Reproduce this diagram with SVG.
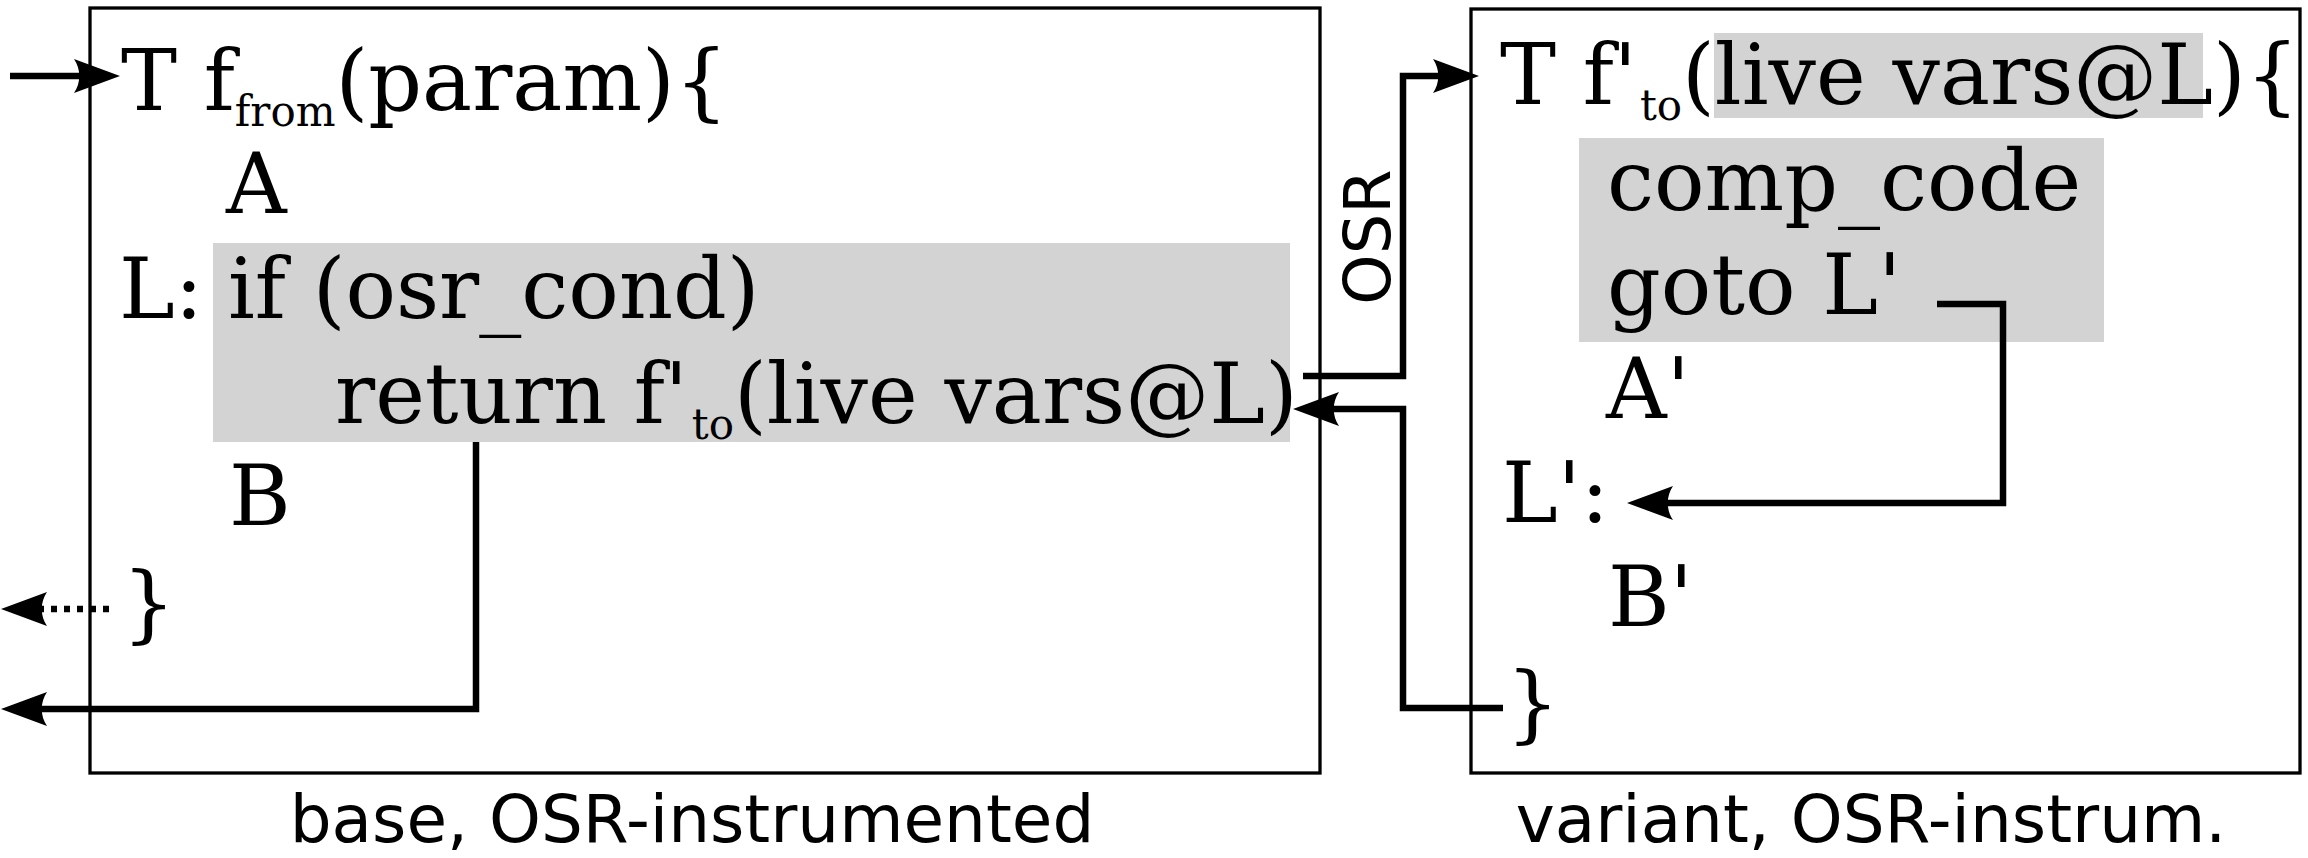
<svg xmlns="http://www.w3.org/2000/svg" width="2308" height="858" viewBox="0 0 2308 858">
<style>
.box{fill:none;stroke:#000;stroke-width:3.3}
.hl{fill:#d3d3d3;stroke:none}
.code{font-family:"DejaVu Serif","Liberation Serif",serif;font-size:84px;fill:#000}
.sub{font-size:42px}
.cap{font-family:"DejaVu Sans","Liberation Sans",sans-serif;font-size:66px;fill:#000;text-anchor:middle}
.osr{font-family:"DejaVu Sans","Liberation Sans",sans-serif;font-size:64px;fill:#000;text-anchor:middle}
.conn path{fill:none;stroke:#000;stroke-width:6.5;stroke-linejoin:miter;marker-end:url(#ah)}
.conn path.dot{stroke-dasharray:6 7}
</style>
<defs>
<marker id="ah" markerUnits="userSpaceOnUse" viewBox="-50 -20 55 40" markerWidth="55" markerHeight="40" refX="-28" refY="0" orient="auto">
<path d="M0,0 L-46,-17 C-39,-7 -39,7 -46,17 Z" fill="#000"/>
</marker>
</defs>
<rect width="2308" height="858" fill="#fff"/>
<g id="base">
<rect class="box" x="90" y="8" width="1230" height="765"/>
<rect class="hl" x="213" y="243" width="1077" height="199"/>
<text class="code" x="121" y="110">T f<tspan class="sub" dy="16">from</tspan><tspan dy="-16">(param){</tspan></text>
<text class="code" x="226" y="213">A</text>
<text class="code" x="119" y="318">L:</text>
<text class="code" x="228" y="318">if (osr_cond)</text>
<text class="code" x="335" y="423">return f'<tspan class="sub" dx="4" dy="16">to</tspan><tspan dy="-16">(live vars@L)</tspan></text>
<text class="code" x="229" y="525">B</text>
<text class="code" x="122" y="632">}</text>
<text class="cap" x="692" y="842">base, OSR-instrumented</text>
</g>
<g id="variant">
<rect class="box" x="1471" y="9" width="829" height="764"/>
<rect class="hl" x="1714" y="33" width="489" height="85"/>
<rect class="hl" x="1579" y="138" width="525" height="204"/>
<text class="code" x="1500" y="104">T f'<tspan class="sub" dx="3" dy="16">to</tspan><tspan dy="-16">(live vars@L){</tspan></text>
<text class="code" x="1607" y="210">comp_code</text>
<text class="code" x="1607" y="314">goto L'</text>
<text class="code" x="1606" y="418">A'</text>
<text class="code" x="1502" y="522">L':</text>
<text class="code" x="1608" y="626">B'</text>
<text class="code" x="1506" y="732">}</text>
<text class="cap" x="1871" y="842">variant, OSR-instrum.</text>
</g>
<g id="osr-label">
<text class="osr" x="1390" y="237" transform="rotate(-90 1390 237)">OSR</text>
</g>
<g id="connectors" class="conn">
<path d="M10,76 H92"/>
<path d="M1303,376 H1403 V76 H1451"/>
<path d="M1503,708 H1403 V409 H1321"/>
<path d="M1937,304 H2003 V503 H1655"/>
<path d="M476,442 V709 H29"/>
<path class="dot" d="M109,609 H29"/>
</g>
</svg>
